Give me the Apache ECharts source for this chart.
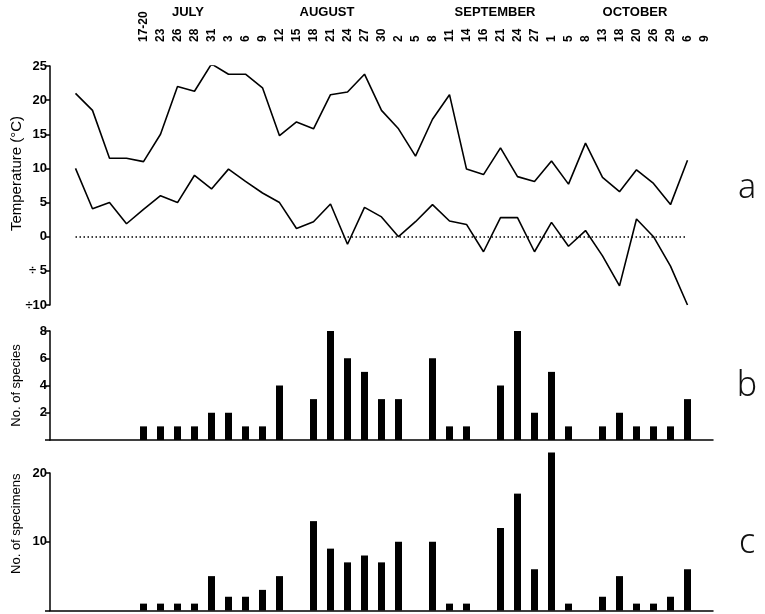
<!DOCTYPE html>
<html>
<head>
<meta charset="utf-8">
<script src="https://cdn.jsdelivr.net/npm/echarts@6/dist/echarts.min.js"></script>
<style>
html, body { margin: 0; padding: 0; background: #fff; }
#chart { width: 765px; height: 614px; }
</style>
</head>
<body>
<div id="chart"></div>
<script>
// sampling dates (first four temperature readings have no date label)
const dateLabels = ['', '', '', '', '17-20', '23', '26', '28', '31',
  '3', '6', '9', '12', '15', '18', '21', '24', '27', '30',
  '2', '5', '8', '11', '14', '16', '21', '24', '27',
  '1', '5', '8', '13', '18', '20', '26', '29', '6', '9']

const months = ['JULY', 'AUGUST', 'SEPTEMBER', 'OCTOBER']

// temperature (°C), upper and lower curve
const tempMax = [21, 18.5, 11.5, 11.5, 11, 15, 22, 21.3, 25.3,
  23.8, 23.8, 21.8, 14.8, 16.8, 15.8, 20.8, 21.2, 23.8, 18.5,
  15.8, 11.8, 17.2, 20.8, 9.9, 9.1, 13, 8.8, 8.1,
  11.1, 7.7, 13.7, 8.7, 6.6, 9.8, 7.8, 4.7, 11.2, null]
const tempMin = [10, 4.1, 5, 1.9, 4, 6, 5, 9, 7,
  9.9, 8.1, 6.4, 5, 1.2, 2.2, 4.8, -1.1, 4.3, 2.9,
  0, 2.2, 4.7, 2.3, 1.8, -2.2, 2.8, 2.8, -2.2,
  2.1, -1.4, 0.9, -2.8, -7.2, 2.6, 0, -4.3, -10, null]

// catches
const species = [null, null, null, null, 1, 1, 1, 1, 2,
  2, 1, 1, 4, null, 3, 8, 6, 5, 3,
  3, null, 6, 1, 1, null, 4, 8, 2,
  5, 1, null, 1, 2, 1, 1, 1, 3, null]
const specimens = [null, null, null, null, 1, 1, 1, 1, 5,
  2, 2, 3, 5, null, 13, 9, 7, 8, 7,
  10, null, 10, 1, 1, null, 12, 17, 6,
  23, 1, null, 2, 5, 1, 1, 2, 6, null]

const font = '"Liberation Sans", "DejaVu Sans", sans-serif'
// one empty slot in front so the axis starts a bit left of the first reading
const cats = [''].concat(dateLabels)
const pad = arr => [null].concat(arr)

const chart = echarts.init(document.getElementById('chart'))

const gridBase = { left: 50, width: 663, outerBoundsMode: 'none' }

const hiddenX = i => ({
  gridIndex: i,
  type: 'category',
  data: cats,
  boundaryGap: true,
  axisLine: { show: true, onZero: false, lineStyle: { color: '#000', width: 1.5 } },
  axisTick: { show: false },
  axisLabel: { show: false },
  splitLine: { show: false }
})

const yBase = {
  type: 'value',
  splitLine: { show: false },
  axisLine: { show: true, lineStyle: { color: '#000', width: 1.5 } },
  axisTick: { show: true, length: 5, lineStyle: { color: '#000', width: 1.5 } },
  axisLabel: { color: '#000', fontSize: 13, fontWeight: 'bold', fontFamily: font, margin: 3 },
  nameLocation: 'middle',
  nameGap: 27,
  nameMoveOverlap: false,
  nameTextStyle: { color: '#000', fontSize: 13, fontFamily: font }
}

const option = {
  animation: false,
  backgroundColor: '#fff',
  grid: [
    Object.assign({ top: 66, height: 239 }, gridBase),
    Object.assign({ top: 331, height: 109 }, gridBase),
    Object.assign({ top: 473, height: 137.5 }, gridBase)
  ],
  xAxis: [
    {
      gridIndex: 0,
      type: 'category',
      data: cats,
      position: 'top',
      boundaryGap: true,
      axisLine: { show: false },
      axisTick: { show: false },
      splitLine: { show: false },
      axisLabel: {
        interval: 0, rotate: 90, margin: 24,
        color: '#000', fontSize: 12, fontWeight: 'bold', fontFamily: font
      }
    },
    hiddenX(1),
    hiddenX(2)
  ],
  yAxis: [
    Object.assign({}, yBase, {
      gridIndex: 0, min: -10, max: 25, interval: 5,
      name: 'Temperature (°C)',
      nameGap: 26,
      nameTextStyle: Object.assign({}, yBase.nameTextStyle, { fontSize: 15, padding: [0, 0, 0, 24] }),
      axisLabel: Object.assign({}, yBase.axisLabel, {
        formatter: v => v < 0 ? '÷' + (Math.abs(v) < 10 ? ' ' : '') + Math.abs(v) : String(v)
      })
    }),
    Object.assign({}, yBase, {
      gridIndex: 1, min: 0, max: 8, interval: 2,
      name: 'No. of species',
      axisLabel: Object.assign({}, yBase.axisLabel, { formatter: v => v === 0 ? '' : String(v) })
    }),
    Object.assign({}, yBase, {
      gridIndex: 2, min: 0, max: 20, interval: 10,
      name: 'No. of specimens',
      nameTextStyle: Object.assign({}, yBase.nameTextStyle, { padding: [0, 0, 0, 36] }),
      axisLabel: Object.assign({}, yBase.axisLabel, { formatter: v => v === 0 ? '' : String(v) })
    })
  ],
  series: [
    {
      name: 'max', type: 'line', xAxisIndex: 0, yAxisIndex: 0,
      data: pad(tempMax), symbol: 'none',
      lineStyle: { color: '#000', width: 1.6 }
    },
    {
      name: 'min', type: 'line', xAxisIndex: 0, yAxisIndex: 0,
      data: pad(tempMin), symbol: 'none',
      lineStyle: { color: '#000', width: 1.6 },
      markLine: {
        silent: true,
        symbol: 'none',
        label: { show: false },
        lineStyle: { color: '#000', width: 1.5, type: [1.5, 2.5] },
        data: [[{ coord: [1, 0] }, { coord: [37, 0] }]]
      }
    },
    {
      name: 'species', type: 'bar', xAxisIndex: 1, yAxisIndex: 1,
      data: pad(species), barWidth: 7, clip: false,
      itemStyle: { color: '#000' }
    },
    {
      name: 'specimens', type: 'bar', xAxisIndex: 2, yAxisIndex: 2,
      data: pad(specimens), barWidth: 7, clip: false,
      itemStyle: { color: '#000' }
    }
  ],
  graphic: [
    { type: 'text', x: 188, y: 12, style: { text: months[0], fill: '#000', font: 'bold 13px ' + font, align: 'center', verticalAlign: 'middle' } },
    { type: 'text', x: 327, y: 12, style: { text: months[1], fill: '#000', font: 'bold 13px ' + font, align: 'center', verticalAlign: 'middle' } },
    { type: 'text', x: 495, y: 12, style: { text: months[2], fill: '#000', font: 'bold 13px ' + font, align: 'center', verticalAlign: 'middle' } },
    { type: 'text', x: 635, y: 12, style: { text: months[3], fill: '#000', font: 'bold 13px ' + font, align: 'center', verticalAlign: 'middle' } },
    { type: 'text', x: 747, y: 188, style: { text: 'a', fill: '#111', font: '300 34px "DejaVu Sans ExtraLight", "Noto Sans", sans-serif', align: 'center', verticalAlign: 'middle' } },
    { type: 'text', x: 747, y: 386, style: { text: 'b', fill: '#111', font: '300 34px "DejaVu Sans ExtraLight", "Noto Sans", sans-serif', align: 'center', verticalAlign: 'middle' } },
    { type: 'text', x: 747, y: 543, style: { text: 'c', fill: '#111', font: '300 34px "DejaVu Sans ExtraLight", "Noto Sans", sans-serif', align: 'center', verticalAlign: 'middle' } }
  ]
}

chart.setOption(option)
</script>
</body>
</html>
